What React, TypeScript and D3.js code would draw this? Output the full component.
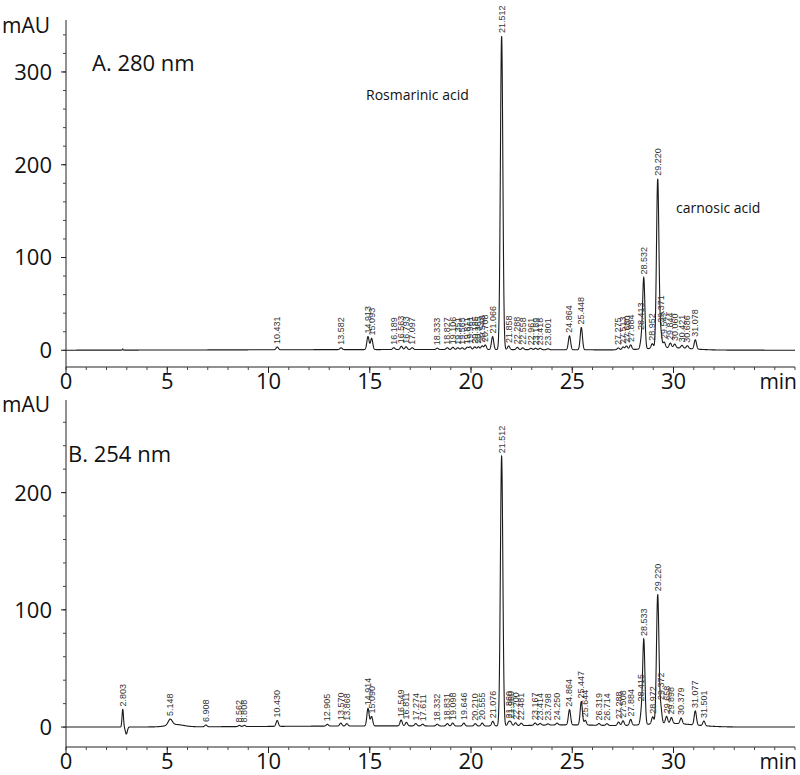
import React from "react";
import * as d3 from "d3";

// ---------- DATA ----------
// Panel A (280 nm): retention times (min) and peak heights (mAU)
const timesA = [10.431, 13.582, 14.913, 15.093, 16.189, 16.563, 16.793, 17.097, 18.333, 18.827, 19.106, 19.351, 19.565, 19.811, 19.961, 20.185, 20.365, 20.548, 20.708, 21.066, 21.512, 21.858, 22.288, 22.558, 22.961, 23.189, 23.418, 23.801, 24.864, 25.448, 27.275, 27.513, 27.680, 27.884, 28.413, 28.532, 28.952, 29.220, 29.371, 29.542, 29.844, 30.060, 30.421, 30.686, 31.078];
const heightsA = [3, 2, 14, 12, 2, 3.5, 3, 2, 1.5, 2, 2.5, 2, 2, 2.5, 3, 3, 3, 4, 5, 14, 338, 4, 2.5, 2, 1.5, 1.5, 1.5, 1, 15, 24, 2, 3, 4, 5, 10, 76, 5, 182, 16, 6, 5, 4, 3, 3, 10];
// broad baseline features (time, height, width) - not labelled
const humpsA: [number, number, number][] = [[2.8, 1.2, 0.02], [17.5, 0.8, 9], [29.8, 2.5, 1.0]];

// Panel B (254 nm)
const timesB = [2.803, 5.148, 6.908, 8.562, 8.808, 10.430, 12.905, 13.570, 13.868, 14.914, 15.090, 16.549, 16.811, 17.274, 17.611, 18.332, 18.831, 19.098, 19.646, 20.210, 20.555, 21.076, 21.512, 21.860, 21.960, 22.200, 22.481, 23.167, 23.414, 23.798, 24.250, 24.864, 25.447, 25.644, 26.319, 26.714, 27.288, 27.508, 27.884, 28.415, 28.533, 28.972, 29.220, 29.372, 29.658, 29.898, 30.379, 31.077, 31.501];
const heightsB = [15, 5, 1.5, 1, 1, 5, 1.5, 2.5, 2, 15, 8, 5, 3, 2, 1.5, 1.5, 2, 2.5, 2.5, 2, 2.5, 4, 230, 3, 3, 2.5, 2, 2, 1.5, 1, 1.5, 13, 20, 4, 1.5, 1.5, 3, 4, 5, 10, 72, 6, 110, 13, 6, 5, 5, 12, 4];
const humpsB: [number, number, number][] = [[2.98, -6, 0.05], [5.4, 2, 0.4], [16.5, 1, 6], [25, 1.5, 2], [29.8, 3, 1.2]];

const yTicksA = [0, 100, 200, 300];
const yTicksB = [0, 100, 200];
const xTicks = [0, 5, 10, 15, 20, 25, 30];

const FONT = "'Open Sans', 'Noto Sans', sans-serif";
const LABEL_FONT = "'Liberation Sans', Arial, sans-serif";

function sigmaFor(t: number, h: number) {
  if (h > 100) return 0.06;
  if (t < 3) return 0.035;
  if (t < 6) return 0.1;
  return 0.055;
}

function signal(t: number, times: number[], heights: number[], humps: [number, number, number][]) {
  let v = 0;
  for (let i = 0; i < times.length; i++) {
    const s = sigmaFor(times[i], heights[i]);
    const d = t - times[i];
    v += heights[i] * Math.exp(-(d * d) / (2 * s * s));
  }
  for (const [ht, hh, hw] of humps) {
    const d = t - ht;
    v += hh * Math.exp(-(d * d) / (2 * hw * hw));
  }
  return v;
}

type PanelProps = {
  times: number[];
  heights: number[];
  humps: [number, number, number][];
  yDomain: [number, number];
  yRange: [number, number];
  yTicks: number[];
  title: string;
  titleX: number;
  titleY: number;
  mauY: number;
};

function Panel(p: PanelProps) {
  const x = d3.scaleLinear().domain([0, 36]).range([66, 795]);
  const y = d3.scaleLinear().domain(p.yDomain).range(p.yRange);
  const ts = d3.range(0, 36.0001, 0.005);
  const pts: [number, number][] = ts.map((t) => [t, signal(t, p.times, p.heights, p.humps)]);
  const line = d3.line<[number, number]>().x((d) => x(d[0])).y((d) => y(d[1]));
  const axisY = p.yRange[0];
  const minorX = d3.range(0, 36.01, 1);
  const minorY = d3.range(Math.ceil(p.yDomain[0] / 20) * 20, p.yDomain[1], 20);
  return (
    <g>
      {/* y axis */}
      <line x1={66} x2={66} y1={p.yRange[1]} y2={axisY} stroke="#222" strokeWidth={1} />
      {minorY.map((v) => (
        <line key={"my" + v} x1={63} x2={66} y1={y(v)} y2={y(v)} stroke="#444" strokeWidth={1} />
      ))}
      {p.yTicks.map((v) => (
        <g key={"y" + v}>
          <line x1={61} x2={66} y1={y(v)} y2={y(v)} stroke="#222" />
          <text x={52} y={y(v)} dy="0.36em" textAnchor="end" fontSize={22} fontFamily={FONT} fill="#111">
            {v}
          </text>
        </g>
      ))}
      <text x={2} y={p.mauY} fontSize={21} fontFamily={FONT} fill="#111">mAU</text>
      {/* x axis */}
      <line x1={66} x2={795} y1={axisY} y2={axisY} stroke="#222" strokeWidth={1} />
      {minorX.map((v) => (
        <line key={"mx" + v} x1={x(v)} x2={x(v)} y1={axisY} y2={axisY + 3} stroke="#444" />
      ))}
      {xTicks.map((v) => (
        <g key={"x" + v}>
          <line x1={x(v)} x2={x(v)} y1={axisY} y2={axisY + 6} stroke="#222" />
          <text x={x(v)} y={axisY + 22} textAnchor="middle" fontSize={22} fontFamily={FONT} fill="#111">
            {v}
          </text>
        </g>
      ))}
      <text x={797} y={axisY + 22} textAnchor="end" fontSize={21} fontFamily={FONT} fill="#111">min</text>
      {/* trace */}
      <path d={line(pts) || ""} fill="none" stroke="#1a1a1a" strokeWidth={1.1} />
      {/* peak labels */}
      {p.times.map((t, i) => {
        const py = y(signal(t, p.times, p.heights, p.humps)) - 3;
        const px = x(t) + 3;
        return (
          <text
            key={"l" + i}
            transform={`translate(${px},${py}) rotate(-90)`}
            fontSize={9}
            fontFamily={LABEL_FONT}
            fill="#333"
          >
            {t.toFixed(3)}
          </text>
        );
      })}
      <text x={p.titleX} y={p.titleY} fontSize={22} fontFamily={FONT} fill="#111">{p.title}</text>
    </g>
  );
}

export default function App() {
  return (
    <svg width={800} height={775} style={{ position: "absolute", left: 0, top: 0, background: "#fff" }}>
      <rect width={800} height={775} fill="#fff" />
      <Panel
        times={timesA}
        heights={heightsA}
        humps={humpsA}
        yDomain={[-18, 356]}
        yRange={[367, 20]}
        yTicks={yTicksA}
        title="A. 280 nm"
        titleX={92}
        titleY={71}
        mauY={33}
      />
      <text x={366} y={100} fontSize={14} fontFamily={FONT} fill="#111">Rosmarinic acid</text>
      <text x={676} y={213} fontSize={14} fontFamily={FONT} fill="#111">carnosic acid</text>
      <Panel
        times={timesB}
        heights={heightsB}
        humps={humpsB}
        yDomain={[-17, 279]}
        yRange={[747, 400]}
        yTicks={yTicksB}
        title="B. 254 nm"
        titleX={68}
        titleY={462}
        mauY={412}
      />
    </svg>
  );
}
